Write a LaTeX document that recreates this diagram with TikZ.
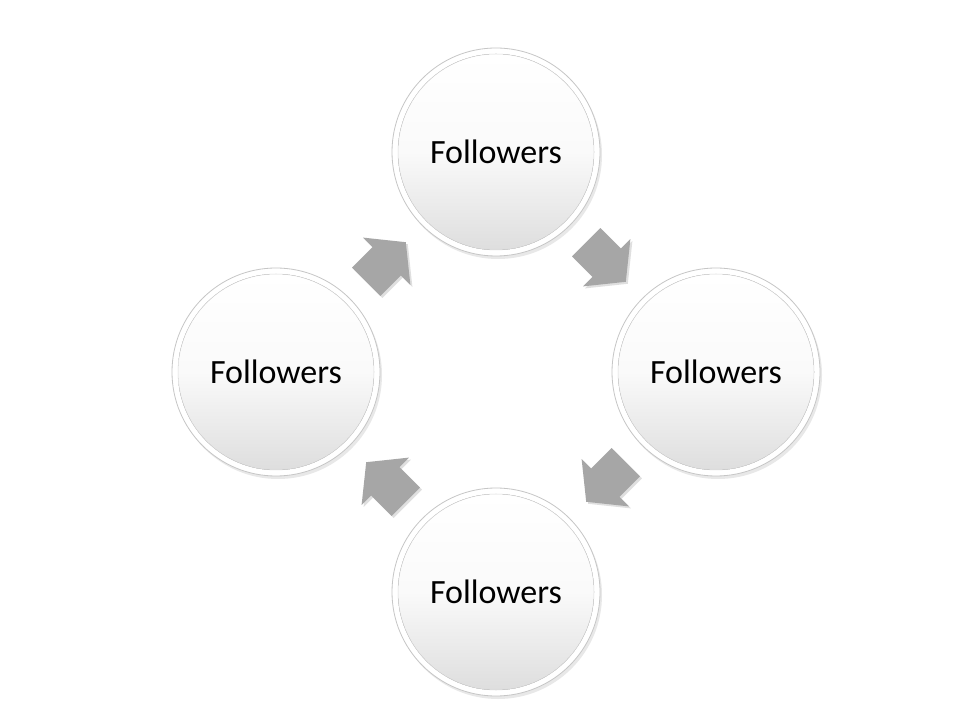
\documentclass[tikz,border=0pt]{standalone}
\usepackage{fontspec}
\setmainfont{Carlito}
\usetikzlibrary{calc,shadows}
\begin{document}
\begin{tikzpicture}[x=1pt,y=1pt,
  bubble/.style={circle,minimum size=208pt,inner sep=0pt,fill=white,draw=gray!45,line width=0.8pt,
    drop shadow={opacity=0.18,shadow xshift=2pt,shadow yshift=-3pt}},
  innerball/.style={top color=white,bottom color=gray!26,middle color=gray!4,draw=gray!28,line width=0.5pt},
  label/.style={font=\fontsize{34}{40}\selectfont,text=black},
  blockarrow/.style={fill=gray!70!white,draw=none,
    drop shadow={opacity=0.25,shadow xshift=2pt,shadow yshift=-2pt}}
]
\useasboundingbox (0,0) rectangle (960,720);
\fill[white] (0,0) rectangle (960,720);
\newcommand{\ball}[3]{%
  \node[bubble] (#1) at (#2) {};
  \fill[innerball] (#1.center) circle (98);
  \node[label] (#1-t) at (#1.center) {#3};
}
\ball{top}{496,568}{Followers}
\ball{right}{716,348}{Followers}
\ball{bottom}{496,128}{Followers}
\ball{left}{276,348}{Followers}
\coordinate (a1) at ($(left)!0.5!(top)$);
\fill[blockarrow,shift={(a1)},rotate=45]
  (-28,-20) -- (1,-20) -- (1,-33.5) -- (28,0) -- (1,33.5) -- (1,20) -- (-28,20) -- cycle;
\coordinate (a2) at ($(top)!0.5!(right)$);
\fill[blockarrow,shift={(a2)},rotate=-45]
  (-28,-20) -- (1,-20) -- (1,-33.5) -- (28,0) -- (1,33.5) -- (1,20) -- (-28,20) -- cycle;
\coordinate (a3) at ($(right)!0.5!(bottom)$);
\fill[blockarrow,shift={(a3)},rotate=-135]
  (-28,-20) -- (1,-20) -- (1,-33.5) -- (28,0) -- (1,33.5) -- (1,20) -- (-28,20) -- cycle;
\coordinate (a4) at ($(bottom)!0.5!(left)$);
\fill[blockarrow,shift={(a4)},rotate=135]
  (-28,-20) -- (1,-20) -- (1,-33.5) -- (28,0) -- (1,33.5) -- (1,20) -- (-28,20) -- cycle;
\end{tikzpicture}
\end{document}
